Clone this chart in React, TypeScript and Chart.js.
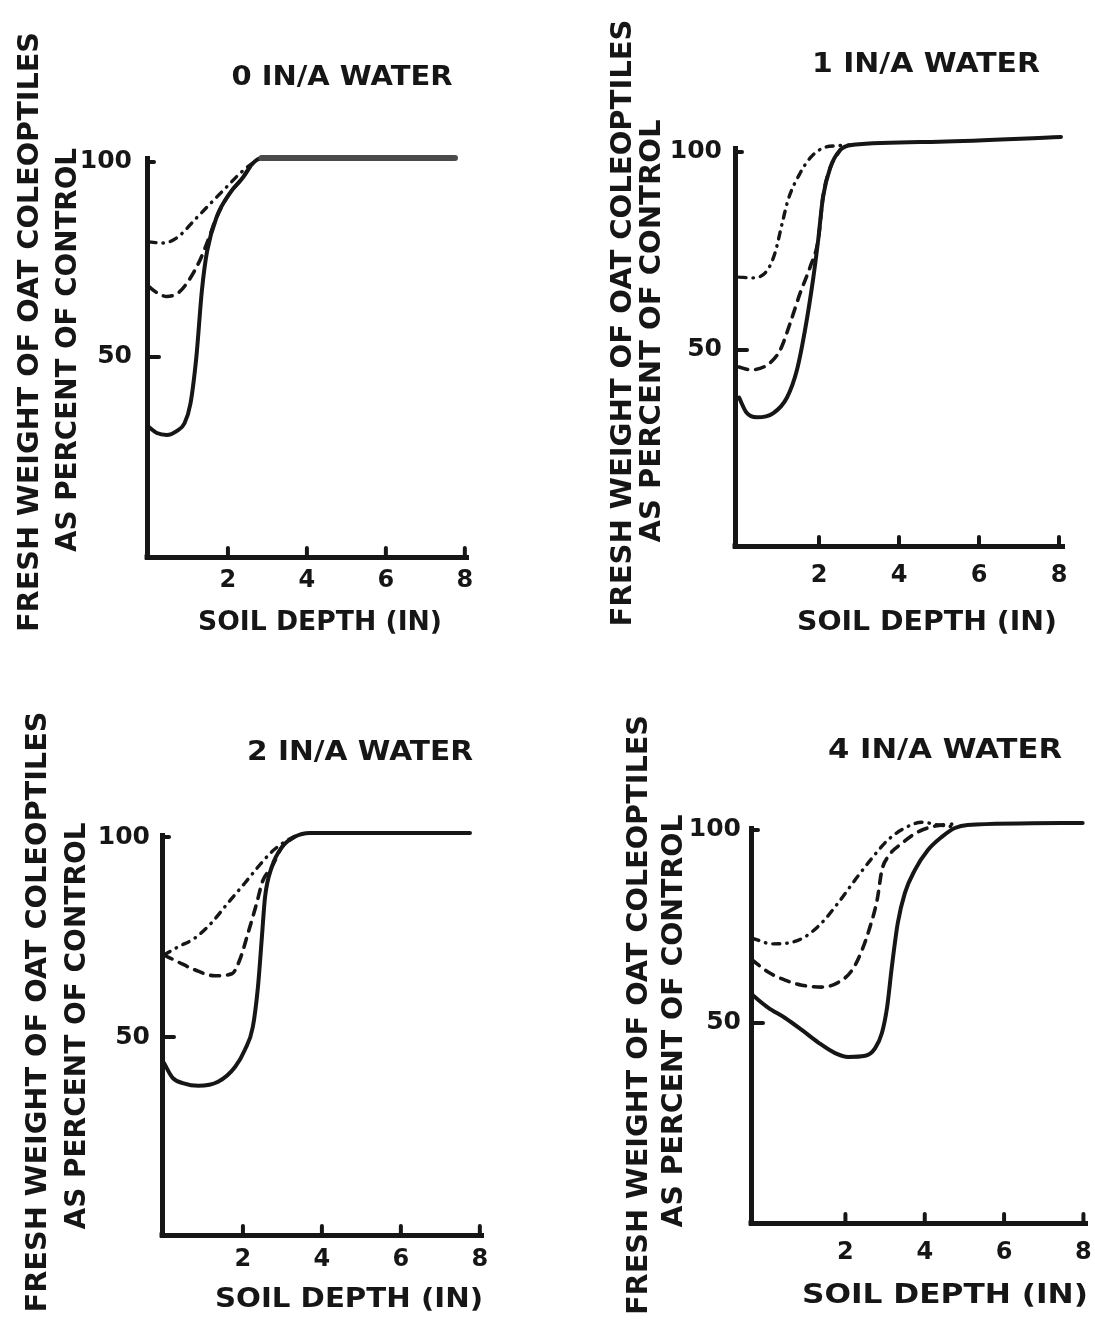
import React, { useEffect, useRef } from "react";
import { Chart, registerables } from "chart.js";

Chart.register(...registerables);

// ---------- text ----------
const TITLES = ["0 IN/A WATER", "1 IN/A WATER", "2 IN/A WATER", "4 IN/A WATER"];
const Y_TITLE_LINE1 = "FRESH WEIGHT OF OAT COLEOPTILES";
const Y_TITLE_LINE2 = "AS PERCENT OF CONTROL";
const X_TITLE = "SOIL DEPTH (IN)";

// ---------- ticks ----------
const X_TICKS = [2, 4, 6, 8];
const X_TICK_LABELS = ["2", "4", "6", "8"];
const Y_TICKS = [50, 100];
const Y_TICK_LABELS = ["50", "100"];

// ---------- data: soil depth (in) vs fresh weight (% of control) ----------
// 0 in/A water
const W0_SOLID_X = [0, 0.2, 0.45, 0.7, 0.9, 1.05, 1.2, 1.34, 1.47, 1.72, 2.05, 2.38, 2.6, 2.85, 7.75];
const W0_SOLID_Y = [32, 30.5, 30, 31, 33, 38, 50, 67, 77, 86, 92, 96, 99.3, 101, 101];
const W0_DASH_X = [0, 0.2, 0.45, 0.75, 1.0, 1.3, 1.5, 1.72, 2.05, 2.38, 2.6];
const W0_DASH_Y = [68, 66.5, 65.5, 66.5, 69.5, 75, 80, 86, 92, 96, 99.3];
const W0_DOT_X = [0, 0.35, 0.7, 1.2, 1.62, 1.97, 2.3, 2.6, 2.85];
const W0_DOT_Y = [79.5, 79.2, 80.5, 85.6, 90, 93.6, 97, 99.5, 101];

// 1 in/A water
const W1_SOLID_X = [0, 0.18, 0.45, 0.85, 1.2, 1.45, 1.65, 1.85, 1.98, 2.1, 2.28, 2.53, 2.85, 5, 8.05];
const W1_SOLID_Y = [38, 34.3, 33, 34, 38, 45, 55, 67.7, 77.8, 88.6, 96, 100.5, 101.8, 102.6, 103.8];
const W1_DASH_X = [0, 0.28, 0.7, 1.03, 1.28, 1.53, 1.78, 1.98, 2.1, 2.28, 2.53];
const W1_DASH_Y = [45.7, 45, 46.2, 50, 56.8, 64.4, 71, 77.8, 88.6, 96, 100.5];
const W1_DOT_X = [0, 0.33, 0.7, 0.9, 1.08, 1.23, 1.53, 1.78, 2.1, 2.5, 2.85];
const W1_DOT_Y = [68.4, 68.2, 70, 74.5, 82, 88, 94.7, 98.5, 101, 101.6, 101.8];

// 2 in/A water
const W2_SOLID_X = [0, 0.22, 0.5, 0.87, 1.37, 1.8, 2.05, 2.25, 2.38, 2.48, 2.56, 2.73, 2.99, 3.3, 3.7, 7.75];
const W2_SOLID_Y = [43.5, 39.8, 38.4, 37.8, 38.8, 42.5, 46.8, 52.5, 62.5, 75, 85, 92.5, 97.5, 100, 101, 101];
const W2_DASH_X = [0, 0.35, 0.78, 1.29, 1.72, 1.92, 2.13, 2.35, 2.5, 2.73, 2.99, 3.3];
const W2_DASH_Y = [70.5, 68.8, 66.8, 65.3, 65.8, 69.3, 76, 83.5, 89, 92.5, 97.5, 100];
const W2_DOT_X = [0, 0.35, 0.78, 1.2, 1.62, 2.05, 2.38, 2.73, 3.06, 3.4, 3.7];
const W2_DOT_Y = [70.5, 72.5, 74.7, 78.5, 83.5, 88.5, 92.5, 96.3, 98.8, 100.5, 101];

// 4 in/A water
const W4_SOLID_X = [-0.35, 0.05, 0.48, 0.9, 1.31, 1.74, 2.07, 2.5, 2.75, 2.92, 3.05, 3.17, 3.32, 3.5, 3.75, 4.08, 4.43, 4.76, 5.08, 7.98];
const W4_SOLID_Y = [57.3, 54, 51.3, 48.2, 45, 42.2, 41.2, 41.5, 43.5, 47.4, 54, 64.5, 75.9, 83.7, 89.6, 94.8, 98.2, 100.5, 101.3, 101.8];
const W4_DASH_X = [-0.35, 0.05, 0.48, 0.9, 1.4, 1.8, 2.17, 2.42, 2.62, 2.8, 2.92, 3.07, 3.43, 3.83, 4.26, 4.68];
const W4_DASH_Y = [66.3, 63.2, 61.1, 59.8, 59.3, 60.4, 63.7, 68.9, 74.9, 81.9, 89.6, 93, 96.6, 99.5, 101, 101.5];
const W4_DOT_X = [-0.35, 0.15, 0.55, 0.98, 1.4, 1.81, 2.24, 2.67, 3.07, 3.5, 3.93, 4.33, 4.7];
const W4_DOT_Y = [72, 70.5, 70.7, 72.3, 75.9, 81, 87, 92.7, 97.4, 100.5, 102, 101.3, 100.8];

// ---------- layout / style ----------
const INK = "#161616";
const FONT = '"DejaVu Sans", "Liberation Sans", sans-serif';

type TextItem = { cx: number; cy: number; w: number };
type PanelCfg = {
  canvas: [number, number, number, number];
  axis: { left: number; top: number; right: number; bottom: number };
  xRange: [number, number];
  yRange: [number, number];
  xTickPad: number;
  yTickPad: number;
  title: string;
  titlePos: TextItem;
  y1: TextItem;
  y2: TextItem;
  xt: TextItem;
  series: [number[], number[]][];
  greyFlat?: boolean;
};

const PANELS: PanelCfg[] = [
  {
    canvas: [0, 0, 547, 665],
    axis: { left: 147, top: 158, right: 468, bottom: 557 },
    xRange: [-0.05, 8.08],
    yRange: [-1.28, 101],
    xTickPad: 9,
    yTickPad: 15,
    title: TITLES[0],
    titlePos: { cx: 342, cy: 75, w: 221 },
    y1: { cx: 28, cy: 332, w: 600 },
    y2: { cx: 66, cy: 350, w: 404 },
    xt: { cx: 320, cy: 620, w: 244 },
    series: [[W0_SOLID_X, W0_SOLID_Y], [W0_DASH_X, W0_DASH_Y], [W0_DOT_X, W0_DOT_Y]],
    greyFlat: true,
  },
  {
    canvas: [547, 0, 548, 665],
    axis: { left: 735, top: 148, right: 1064, bottom: 546 },
    xRange: [-0.1, 8.125],
    yRange: [0.5, 101],
    xTickPad: 15,
    yTickPad: 13,
    title: TITLES[1],
    titlePos: { cx: 926, cy: 62, w: 228 },
    y1: { cx: 621, cy: 323, w: 607 },
    y2: { cx: 650, cy: 331, w: 423 },
    xt: { cx: 927, cy: 620, w: 260 },
    series: [[W1_SOLID_X, W1_SOLID_Y], [W1_DASH_X, W1_DASH_Y], [W1_DOT_X, W1_DOT_Y]],
  },
  {
    canvas: [0, 665, 547, 666],
    axis: { left: 162, top: 835, right: 483, bottom: 1235 },
    xRange: [-0.05, 8.08],
    yRange: [0.5, 100.5],
    xTickPad: 10,
    yTickPad: 12,
    title: TITLES[2],
    titlePos: { cx: 360, cy: 750, w: 226 },
    y1: { cx: 36, cy: 1012, w: 601 },
    y2: { cx: 75, cy: 1026, w: 407 },
    xt: { cx: 349, cy: 1297, w: 268 },
    series: [[W2_SOLID_X, W2_SOLID_Y], [W2_DASH_X, W2_DASH_Y], [W2_DOT_X, W2_DOT_Y]],
  },
  {
    canvas: [547, 665, 548, 666],
    axis: { left: 751, top: 828, right: 1087, bottom: 1223 },
    xRange: [-0.38, 8.09],
    yRange: [-1.8, 100.5],
    xTickPad: 15,
    yTickPad: 10,
    title: TITLES[3],
    titlePos: { cx: 945, cy: 748, w: 234 },
    y1: { cx: 637, cy: 1015, w: 600 },
    y2: { cx: 672, cy: 1021, w: 413 },
    xt: { cx: 945, cy: 1293, w: 286 },
    series: [[W4_SOLID_X, W4_SOLID_Y], [W4_DASH_X, W4_DASH_Y], [W4_DOT_X, W4_DOT_Y]],
  },
];

const SERIES_STYLE = [
  { label: "solid", dash: [] as number[], width: 4 },
  { label: "dashed", dash: [9, 8], width: 3.6 },
  { label: "dash-dot", dash: [7, 7, 0.5, 7], width: 3.4 },
];

function drawFitted(
  ctx: CanvasRenderingContext2D,
  text: string,
  t: TextItem,
  fs: number,
  rot: boolean,
  offX: number,
  offY: number
) {
  ctx.save();
  ctx.font = `bold ${fs}px ${FONT}`;
  const m = ctx.measureText(text).width;
  const sx = t.w / m;
  ctx.translate(t.cx - offX, t.cy - offY);
  if (rot) ctx.rotate(-Math.PI / 2);
  ctx.scale(sx, 1);
  ctx.textAlign = "center";
  ctx.textBaseline = "alphabetic";
  ctx.fillStyle = INK;
  ctx.fillText(text, 0, (fs * 0.729) / 2);
  ctx.restore();
}

function Panel({ cfg }: { cfg: PanelCfg }) {
  const ref = useRef<HTMLCanvasElement | null>(null);
  const [cl, ct, cw, ch] = cfg.canvas;

  useEffect(() => {
    if (!ref.current) return;
    const yBoxWidth = cfg.axis.left - cl;
    const xBoxHeight = ct + ch - cfg.axis.bottom;
    const pad = {
      left: 0,
      top: cfg.axis.top - ct,
      right: cl + cw - cfg.axis.right,
      bottom: 0,
    };

    const datasets = cfg.series.map(([xs, ys], i) => {
      const st = SERIES_STYLE[i];
      const ds: any = {
        label: st.label,
        data: xs.map((x, k) => ({ x, y: ys[k] })),
        borderColor: INK,
        borderWidth: st.width,
        borderDash: st.dash,
        borderCapStyle: "round",
        borderJoinStyle: "round",
        pointRadius: 0,
        pointHoverRadius: 0,
        fill: false,
        cubicInterpolationMode: "monotone",
        clip: false,
      };
      if (i === 0 && cfg.greyFlat) {
        ds.segment = {
          borderColor: (c: any) =>
            c.p0.parsed.y >= 100.9 && c.p1.parsed.y >= 100.9 ? "#4a4a4a" : undefined,
          borderWidth: (c: any) =>
            c.p0.parsed.y >= 100.9 && c.p1.parsed.y >= 100.9 ? 6 : undefined,
        };
      }
      return ds;
    });

    const decorPlugin = {
      id: "decor",
      afterDraw(chart: any) {
        const { ctx, chartArea } = chart;
        const xs = chart.scales.x;
        const ysc = chart.scales.y;
        ctx.save();
        ctx.strokeStyle = INK;
        ctx.fillStyle = INK;
        ctx.lineCap = "round";
        ctx.lineWidth = 4;
        ctx.fillRect(chartArea.left - 2.5, chartArea.bottom - 2.5, 5, 5);
        X_TICKS.forEach((v) => {
          const px = xs.getPixelForValue(v);
          ctx.beginPath();
          ctx.moveTo(px, chartArea.bottom);
          ctx.lineTo(px, chartArea.bottom - 9);
          ctx.stroke();
        });
        Y_TICKS.forEach((v) => {
          const py = ysc.getPixelForValue(v);
          ctx.beginPath();
          ctx.moveTo(chartArea.left, py);
          ctx.lineTo(chartArea.left + (v === 100 ? 7 : 12), py);
          ctx.stroke();
        });
        ctx.restore();
        drawFitted(ctx, cfg.title, cfg.titlePos, 27, false, cl, ct);
        drawFitted(ctx, Y_TITLE_LINE1, cfg.y1, 28, true, cl, ct);
        drawFitted(ctx, Y_TITLE_LINE2, cfg.y2, 28, true, cl, ct);
        drawFitted(ctx, X_TITLE, cfg.xt, 27, false, cl, ct);
      },
    };

    const chart = new Chart(ref.current, {
      type: "line",
      data: { datasets },
      options: {
        animation: false,
        responsive: false,
        maintainAspectRatio: false,
        events: [],
        layout: { padding: pad },
        plugins: {
          legend: { display: false },
          tooltip: { enabled: false },
          title: { display: false },
        },
        scales: {
          x: {
            type: "linear",
            min: cfg.xRange[0],
            max: cfg.xRange[1],
            grid: { display: false, drawTicks: false },
            border: { display: true, width: 5, color: INK },
            ticks: {
              autoSkip: false,
              maxRotation: 0,
              padding: cfg.xTickPad,
              color: INK,
              font: { family: FONT, weight: "bold", size: 24 },
              callback: (v: any) => {
                const i = X_TICKS.indexOf(Number(v));
                return i >= 0 ? X_TICK_LABELS[i] : "";
              },
            },
            afterBuildTicks: (s: any) => {
              s.ticks = X_TICKS.map((value) => ({ value }));
            },
            afterFit: (s: any) => {
              s.height = xBoxHeight;
              s.paddingLeft = 0;
              s.paddingRight = 0;
            },
          },
          y: {
            type: "linear",
            min: cfg.yRange[0],
            max: cfg.yRange[1],
            grid: { display: false, drawTicks: false },
            border: { display: true, width: 5, color: INK },
            ticks: {
              autoSkip: false,
              padding: cfg.yTickPad,
              color: INK,
              font: { family: FONT, weight: "bold", size: 25 },
              callback: (v: any) => {
                const i = Y_TICKS.indexOf(Number(v));
                return i >= 0 ? Y_TICK_LABELS[i] : "";
              },
            },
            afterBuildTicks: (s: any) => {
              s.ticks = Y_TICKS.map((value) => ({ value }));
            },
            afterFit: (s: any) => {
              s.width = yBoxWidth;
              s.paddingTop = 0;
              s.paddingBottom = 0;
            },
          },
        },
      } as any,
      plugins: [decorPlugin],
    });
    return () => chart.destroy();
  }, []);

  return (
    <canvas
      ref={ref}
      width={cw}
      height={ch}
      style={{ position: "absolute", left: cl, top: ct, width: cw, height: ch }}
    />
  );
}

export default function App() {
  return (
    <div
      style={{
        position: "absolute",
        left: 0,
        top: 0,
        width: 1095,
        height: 1331,
        background: "#ffffff",
        overflow: "hidden",
      }}
    >
      {PANELS.map((p, i) => (
        <Panel key={i} cfg={p} />
      ))}
    </div>
  );
}
